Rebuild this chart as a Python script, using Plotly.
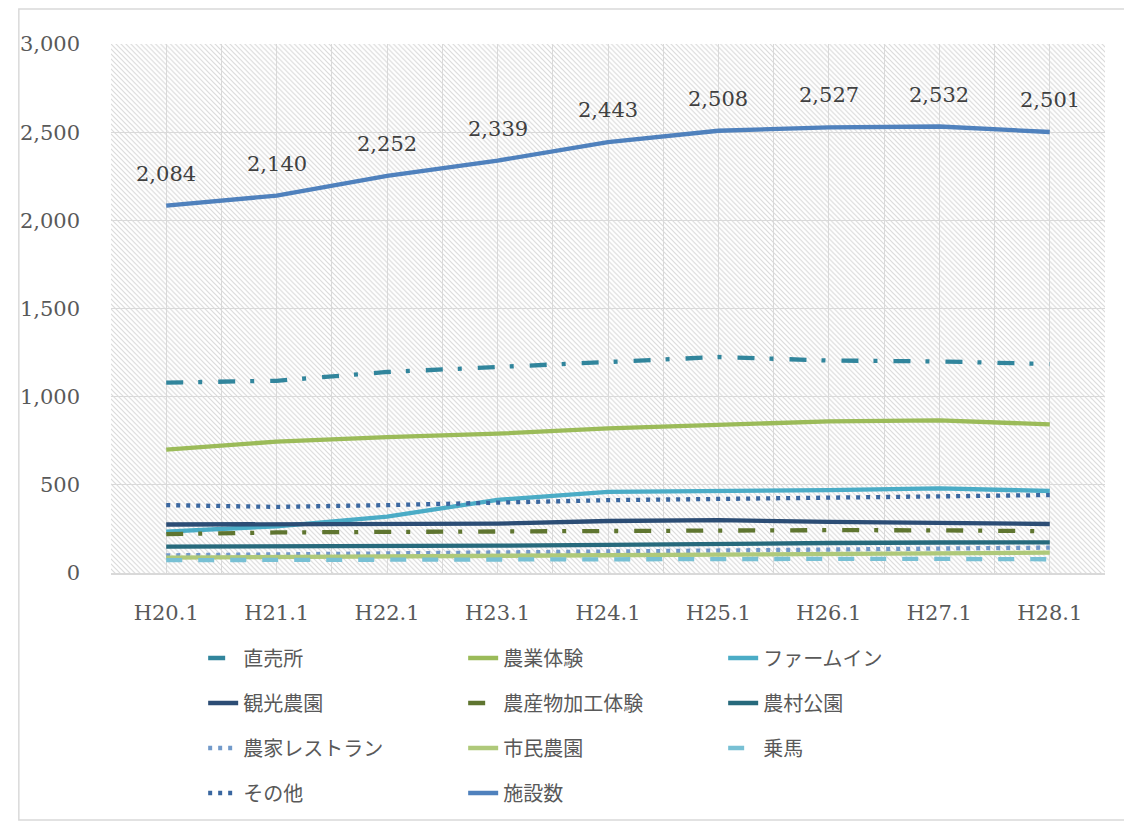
import base64
import plotly.graph_objects as go

# 年度（各年1月時点）
categories = ["H20.1", "H21.1", "H22.1", "H23.1", "H24.1", "H25.1", "H26.1", "H27.1", "H28.1"]

chokubaijo = [1080, 1090, 1140, 1170, 1195, 1225, 1205, 1200, 1185]
nogyo_taiken = [700, 745, 770, 790, 820, 843, 860, 865, 843]
farm_inn = [235, 265, 320, 415, 460, 462, 470, 480, 465]
kanko_noen = [275, 275, 277, 280, 295, 300, 290, 282, 278]
kako_taiken = [220, 230, 233, 235, 240, 245, 243, 242, 237]
noson_koen = [150, 150, 152, 155, 160, 168, 170, 173, 174]
noka_restaurant = [100, 105, 110, 115, 123, 130, 135, 140, 144]
shimin_noen = [87, 90, 95, 100, 103, 107, 110, 112, 115]
joba = [73, 75, 76, 78, 80, 80, 80, 80, 78]
sonota = [385, 375, 385, 400, 413, 420, 428, 438, 442]
shisetsu_su = [2084, 2140, 2252, 2339, 2443, 2508, 2527, 2532, 2501]

x_idx = list(range(len(categories)))

# ページ本体の余白(8px)を差し引いた配置
OFF = 8
W, H = 1132 - OFF, 825
PW, PH = 1003, 529
L, T = 102 - OFF, 44 - OFF
R, B = W - L - PW, H - T - PH

NUM_FONT = "DejaVu Serif"
JP_FONT = "Noto Sans CJK JP"
GRID = "#D9D9D9"

# (名前, 値, 色, 線種, 凡例の行)
series = [
    ("直売所", chokubaijo, "#31859C", "17px,15px,4px,16px", 1),
    ("農業体験", nogyo_taiken, "#9BBB59", "solid", 1),
    ("ファームイン", farm_inn, "#4BACC6", "solid", 1),
    ("観光農園", kanko_noen, "#2C4D75", "solid", 2),
    ("農産物加工体験", kako_taiken, "#5F7530", "17px,15px,4px,16px", 2),
    ("農村公園", noson_koen, "#276A7C", "solid", 2),
    ("農家レストラン", noka_restaurant, "#729ACA", "4px,6px", 3),
    ("市民農園", shimin_noen, "#AFC97A", "solid", 3),
    ("乗馬", joba, "#78C0D4", "16px,16px", 3),
    ("その他", sonota, "#3A67A0", "4px,6px", 4),
    ("施設数", shisetsu_su, "#4F81BD", "solid", 4),
]

fig = go.Figure()
for name, vals, color, dash, row in series:
    fig.add_trace(go.Scatter(
        x=x_idx, y=vals, name=name, mode="lines",
        line=dict(color=color, width=4.3, dash=dash),
        legend="legend" if row == 1 else f"legend{row}",
    ))

# 施設数のデータラベル
for i, v in enumerate(shisetsu_su):
    fig.add_annotation(x=i, y=v, text=f"{v:,}", showarrow=False, yshift=32,
                       font=dict(family=NUM_FONT, size=21, color="#404040"))

# 斜線の背景パターン
svg = (
    f'<svg xmlns="http://www.w3.org/2000/svg" width="{PW}" height="{PH}">'
    '<defs><pattern id="p" width="5" height="5" patternUnits="userSpaceOnUse">'
    '<path d="M0,0 L5,5 M-1,4 L1,6 M4,-1 L6,1" stroke="#DADADA" stroke-width="1.2"/>'
    '</pattern></defs>'
    f'<rect width="{PW}" height="{PH}" fill="url(#p)"/></svg>'
)
svg_uri = "data:image/svg+xml;base64," + base64.b64encode(svg.encode()).decode()
fig.add_layout_image(dict(source=svg_uri, xref="paper", yref="paper", x=0, y=1,
                          sizex=1, sizey=1, sizing="stretch", xanchor="left",
                          yanchor="top", layer="below"))

# グラフ全体の枠（図の端に収まる範囲で）
fig.add_shape(type="rect", xref="paper", yref="paper",
              x0=(1 - L) / PW, x1=(1126 - OFF - L) / PW,
              y0=(PH + T - (820 - OFF)) / PH, y1=(PH + T - 1) / PH,
              line=dict(color=GRID, width=1.5), layer="below")

leg_common = dict(orientation="h", xanchor="left", yanchor="middle",
                  entrywidth=215, entrywidthmode="pixels",
                  font=dict(family=JP_FONT, size=20, color="#595959"),
                  bgcolor="rgba(0,0,0,0)", traceorder="normal")
row_y = [658, 703, 748, 793]
legend_x = (195 - OFF - L) / PW
leg = {}
for k, yy in enumerate(row_y):
    key = "legend" if k == 0 else f"legend{k + 1}"
    leg[key] = dict(leg_common, x=legend_x, y=(T + PH - (yy - OFF)) / PH)

fig.update_layout(
    width=W, height=H,
    margin=dict(l=L, r=R, t=T, b=B),
    paper_bgcolor="white", plot_bgcolor="white",
    showlegend=True,
    xaxis=dict(
        range=[-0.5, len(categories) - 0.5],
        tickmode="array", tickvals=x_idx, ticktext=categories,
        showgrid=True, gridcolor=GRID, gridwidth=1,
        showline=True, linecolor=GRID, linewidth=1.5,
        ticks="", ticklabelstandoff=20, zeroline=False,
        tickfont=dict(family=NUM_FONT, size=21, color="#595959"),
        minor=dict(tick0=0.5, dtick=1, showgrid=True, gridcolor=GRID, gridwidth=1),
    ),
    yaxis=dict(
        range=[0, 3000], dtick=500, tickformat=",",
        showgrid=True, gridcolor=GRID, gridwidth=1,
        zeroline=False, showline=False, ticks="", ticklabelstandoff=30,
        tickfont=dict(family=NUM_FONT, size=21, color="#595959"),
    ),
    **leg,
)

fig.write_html("out.html")
